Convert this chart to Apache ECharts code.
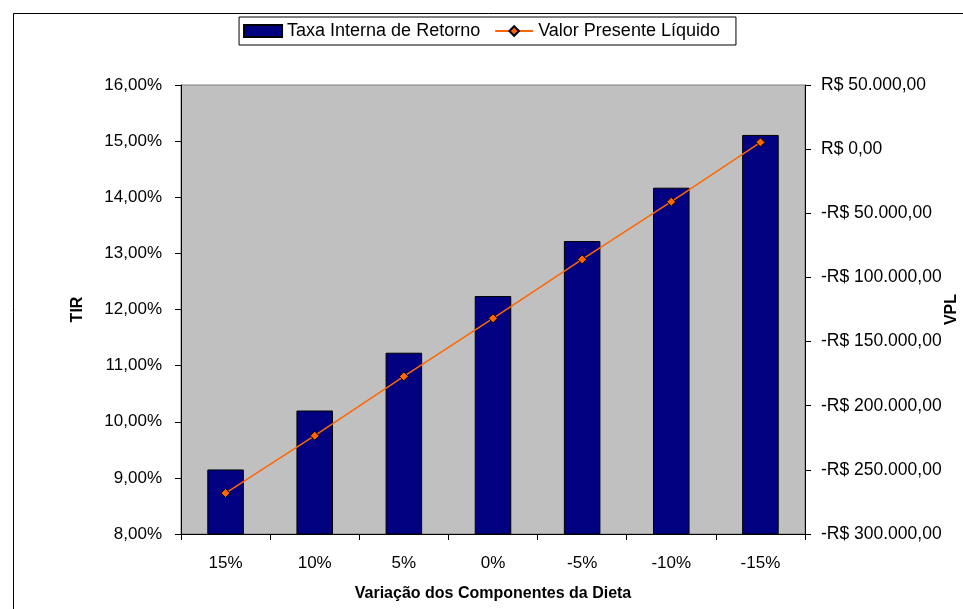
<!DOCTYPE html>
<html>
<head>
<meta charset="utf-8">
<script src="https://cdn.jsdelivr.net/npm/echarts@6/dist/echarts.min.js"></script>
<style>html,body{margin:0;padding:0;background:#fff}#c{width:963px;height:609px}</style>
</head>
<body>
<div id="c"></div>
<script>
const categories = ['15%', '10%', '5%', '0%', '-5%', '-10%', '-15%'];
const tirValues = [9.15, 10.20, 11.23, 12.24, 13.22, 14.17, 15.11];
const vplValues = [-268100, -223400, -177100, -131900, -85900, -41000, 5300];
const leftTicks = { min: 8, max: 16, interval: 1 };
const rightTicks = { min: -300000, max: 50000, interval: 50000 };

function fmtPct(v) { return v.toFixed(2).replace('.', ',') + '%'; }
function fmtBRL(v) {
  const neg = v < 0;
  const a = Math.abs(v);
  const s = Math.round(a).toString().replace(/\B(?=(\d{3})+(?!\d))/g, '.');
  return (neg ? '-' : '') + 'R$ ' + s + ',00';
}

const font = 'Liberation Sans, Arial, sans-serif';
const chart = echarts.init(document.getElementById('c'), null, { renderer: 'canvas' });
chart.setOption({
  backgroundColor: '#ffffff',
  animation: false,
  textStyle: { fontFamily: font, color: '#000' },
  graphic: [{
    type: 'rect', left: 11, top: 11, z: -10,
    shape: { x: 0, y: 0, width: 970, height: 620 },
    style: { fill: 'none', stroke: '#000', lineWidth: 1 }
  }],
  legend: {
    top: 17, left: 'center',
    padding: [5, 16, 5, 4],
    borderColor: '#000', borderWidth: 1,
    itemGap: 14, itemWidth: 38, itemHeight: 12,
    textStyle: { fontFamily: font, fontSize: 18, color: '#000' },
    data: [
      { name: 'Taxa Interna de Retorno', icon: 'rect' },
      { name: 'Valor Presente Líquido' }
    ]
  },
  grid: {
    left: 181, right: 158, top: 85, bottom: 75,
    outerBoundsMode: 'none', containLabel: false,
    show: true, backgroundColor: '#c0c0c0', borderColor: '#808080', borderWidth: 1
  },
  xAxis: {
    type: 'category', data: categories,
    name: 'Variação dos Componentes da Dieta', nameLocation: 'middle', nameGap: 52,
    nameMoveOverlap: false,
    nameTextStyle: { fontFamily: font, fontSize: 16, fontWeight: 'bold', color: '#000' },
    axisLine: { onZero: false, lineStyle: { color: '#000', width: 1 } },
    axisTick: { show: true, length: 6, lineStyle: { color: '#000' } },
    axisLabel: { fontFamily: font, fontSize: 17, color: '#000', margin: 21 }
  },
  yAxis: [{
    type: 'value', position: 'left', min: leftTicks.min, max: leftTicks.max, interval: leftTicks.interval,
    name: 'TIR', nameLocation: 'middle', nameGap: 95, nameRotate: 90, nameMoveOverlap: false,
    nameTextStyle: { fontFamily: font, fontSize: 16, fontWeight: 'bold', color: '#000' },
    axisLine: { show: true, lineStyle: { color: '#000' } },
    axisTick: { show: true, length: 6, lineStyle: { color: '#000' } },
    splitLine: { show: false },
    axisLabel: { fontFamily: font, fontSize: 17, color: '#000', margin: 19, formatter: fmtPct }
  }, {
    type: 'value', position: 'right', min: rightTicks.min, max: rightTicks.max, interval: rightTicks.interval,
    name: 'VPL', nameLocation: 'middle', nameGap: 139, nameRotate: 90, nameMoveOverlap: false,
    nameTextStyle: { fontFamily: font, fontSize: 16, fontWeight: 'bold', color: '#000' },
    axisLine: { show: true, lineStyle: { color: '#000' } },
    axisTick: { show: true, length: 6, lineStyle: { color: '#000' } },
    splitLine: { show: false },
    axisLabel: { fontFamily: font, fontSize: 17.5, color: '#000', margin: 16, formatter: fmtBRL }
  }],
  series: [{
    name: 'Taxa Interna de Retorno', type: 'bar', yAxisIndex: 0,
    data: tirValues, barCategoryGap: '59%',
    itemStyle: { color: '#000080', borderColor: '#000', borderWidth: 1 }
  }, {
    name: 'Valor Presente Líquido', type: 'line', yAxisIndex: 1,
    data: vplValues, symbol: 'diamond', symbolSize: 9,
    lineStyle: { color: '#ff6600', width: 1.5 },
    itemStyle: { color: '#ff6600', borderColor: '#000', borderWidth: 1 }
  }]
});
</script>
</body>
</html>
